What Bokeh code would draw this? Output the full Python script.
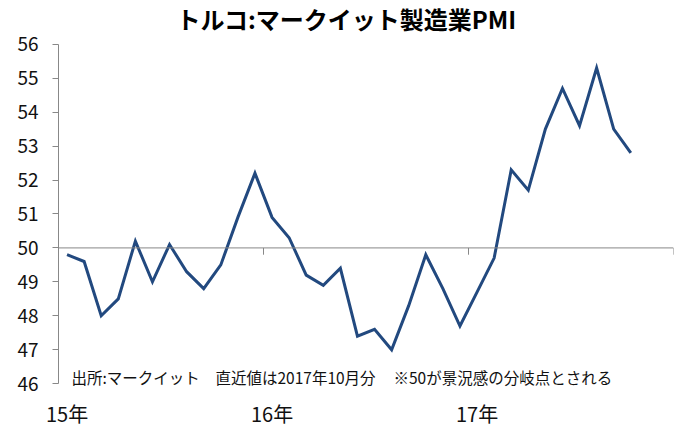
from bokeh.plotting import figure
from bokeh.models import Range1d, FixedTicker, Label, Span
from bokeh.embed import file_html
from bokeh.resources import INLINE

# Turkey Markit manufacturing PMI, Jan 2015 - Oct 2017 (monthly)
pmi = [49.8, 49.6, 48.0, 48.5, 50.2, 49.0, 50.1, 49.3, 48.8, 49.5, 50.9, 52.2,
       50.9, 50.3, 49.2, 48.9, 49.4, 47.4, 47.6, 47.0, 48.3, 49.8, 48.8, 47.7,
       48.7, 49.7, 52.3, 51.7, 53.5, 54.7, 53.6, 55.3, 53.5, 52.8]
year_labels = ["15年", "16年", "17年"]
y_ticks = [46, 47, 48, 49, 50, 51, 52, 53, 54, 55, 56]
months_per_year = 12

x = [i + 0.5 for i in range(len(pmi))]
year_starts = [k * months_per_year + 0.5 for k in range(len(year_labels))]
year_bounds = [(k + 1) * months_per_year for k in range(len(year_labels))]
n_months = months_per_year * len(year_labels)

FONT = "Noto Sans CJK JP"
GRAY = "#888888"

# frame extended above/below the axis so title and notes are drawn inside it
p = figure(width=675, height=430, x_range=Range1d(0, n_months), y_range=Range1d(45.8, 57.2),
           output_backend="svg", toolbar_location=None,
           min_border_left=58, min_border_right=2, min_border_top=3, min_border_bottom=38)
p.xgrid.visible = False
p.ygrid.visible = False
p.outline_line_color = None
p.background_fill_color = "white"

# y axis
p.yaxis.ticker = FixedTicker(ticks=y_ticks)
p.yaxis.bounds = (46, 56)
p.yaxis.axis_line_color = GRAY
p.yaxis.major_tick_line_color = GRAY
p.yaxis.major_tick_out = 6
p.yaxis.major_tick_in = 0
p.yaxis.minor_tick_line_color = None
p.yaxis.major_label_text_font = FONT
p.yaxis.major_label_text_font_size = "19px"
p.yaxis.major_label_text_color = "#111111"
p.yaxis.major_label_standoff = 14

# x axis (labels only, at the bottom)
p.xaxis.ticker = FixedTicker(ticks=year_starts)
p.xaxis.major_label_overrides = {t: lab for t, lab in zip(year_starts, year_labels)}
p.xaxis.axis_line_color = None
p.xaxis.major_tick_line_color = None
p.xaxis.major_tick_out = 0
p.xaxis.major_tick_in = 0
p.xaxis.minor_tick_line_color = None
p.xaxis.major_label_text_font = FONT
p.xaxis.major_label_text_font_size = "20px"
p.xaxis.major_label_text_color = "#111111"
p.xaxis.major_label_standoff = 8

# category axis line crossing at 50
p.add_layout(Span(location=50, dimension="width", line_color=GRAY, line_width=1))
p.segment(x0=year_bounds, y0=[50] * len(year_bounds), x1=year_bounds,
          y1=[49.8] * len(year_bounds), line_color=GRAY, line_width=1)

p.line(x, pmi, line_color="#22497F", line_width=3, line_join="miter")

p.add_layout(Label(x=16.86, y=56.76, text="トルコ:マークイット製造業PMI", text_align="center",
                   text_baseline="middle", text_font=FONT, text_font_size="24px",
                   text_font_style="bold", text_color="#000000"))

notes = [(0.76, "出所:マークイット"), (9.19, "直近値は2017年10月分"), (19.61, "※50が景況感の分岐点とされる")]
for nx, nt in notes:
    p.add_layout(Label(x=nx, y=46.2, text=nt, text_align="left", text_baseline="middle",
                       text_font=FONT, text_font_size="15.5px", text_color="#111111"))

open("out.html", "w").write(file_html(p, INLINE))
